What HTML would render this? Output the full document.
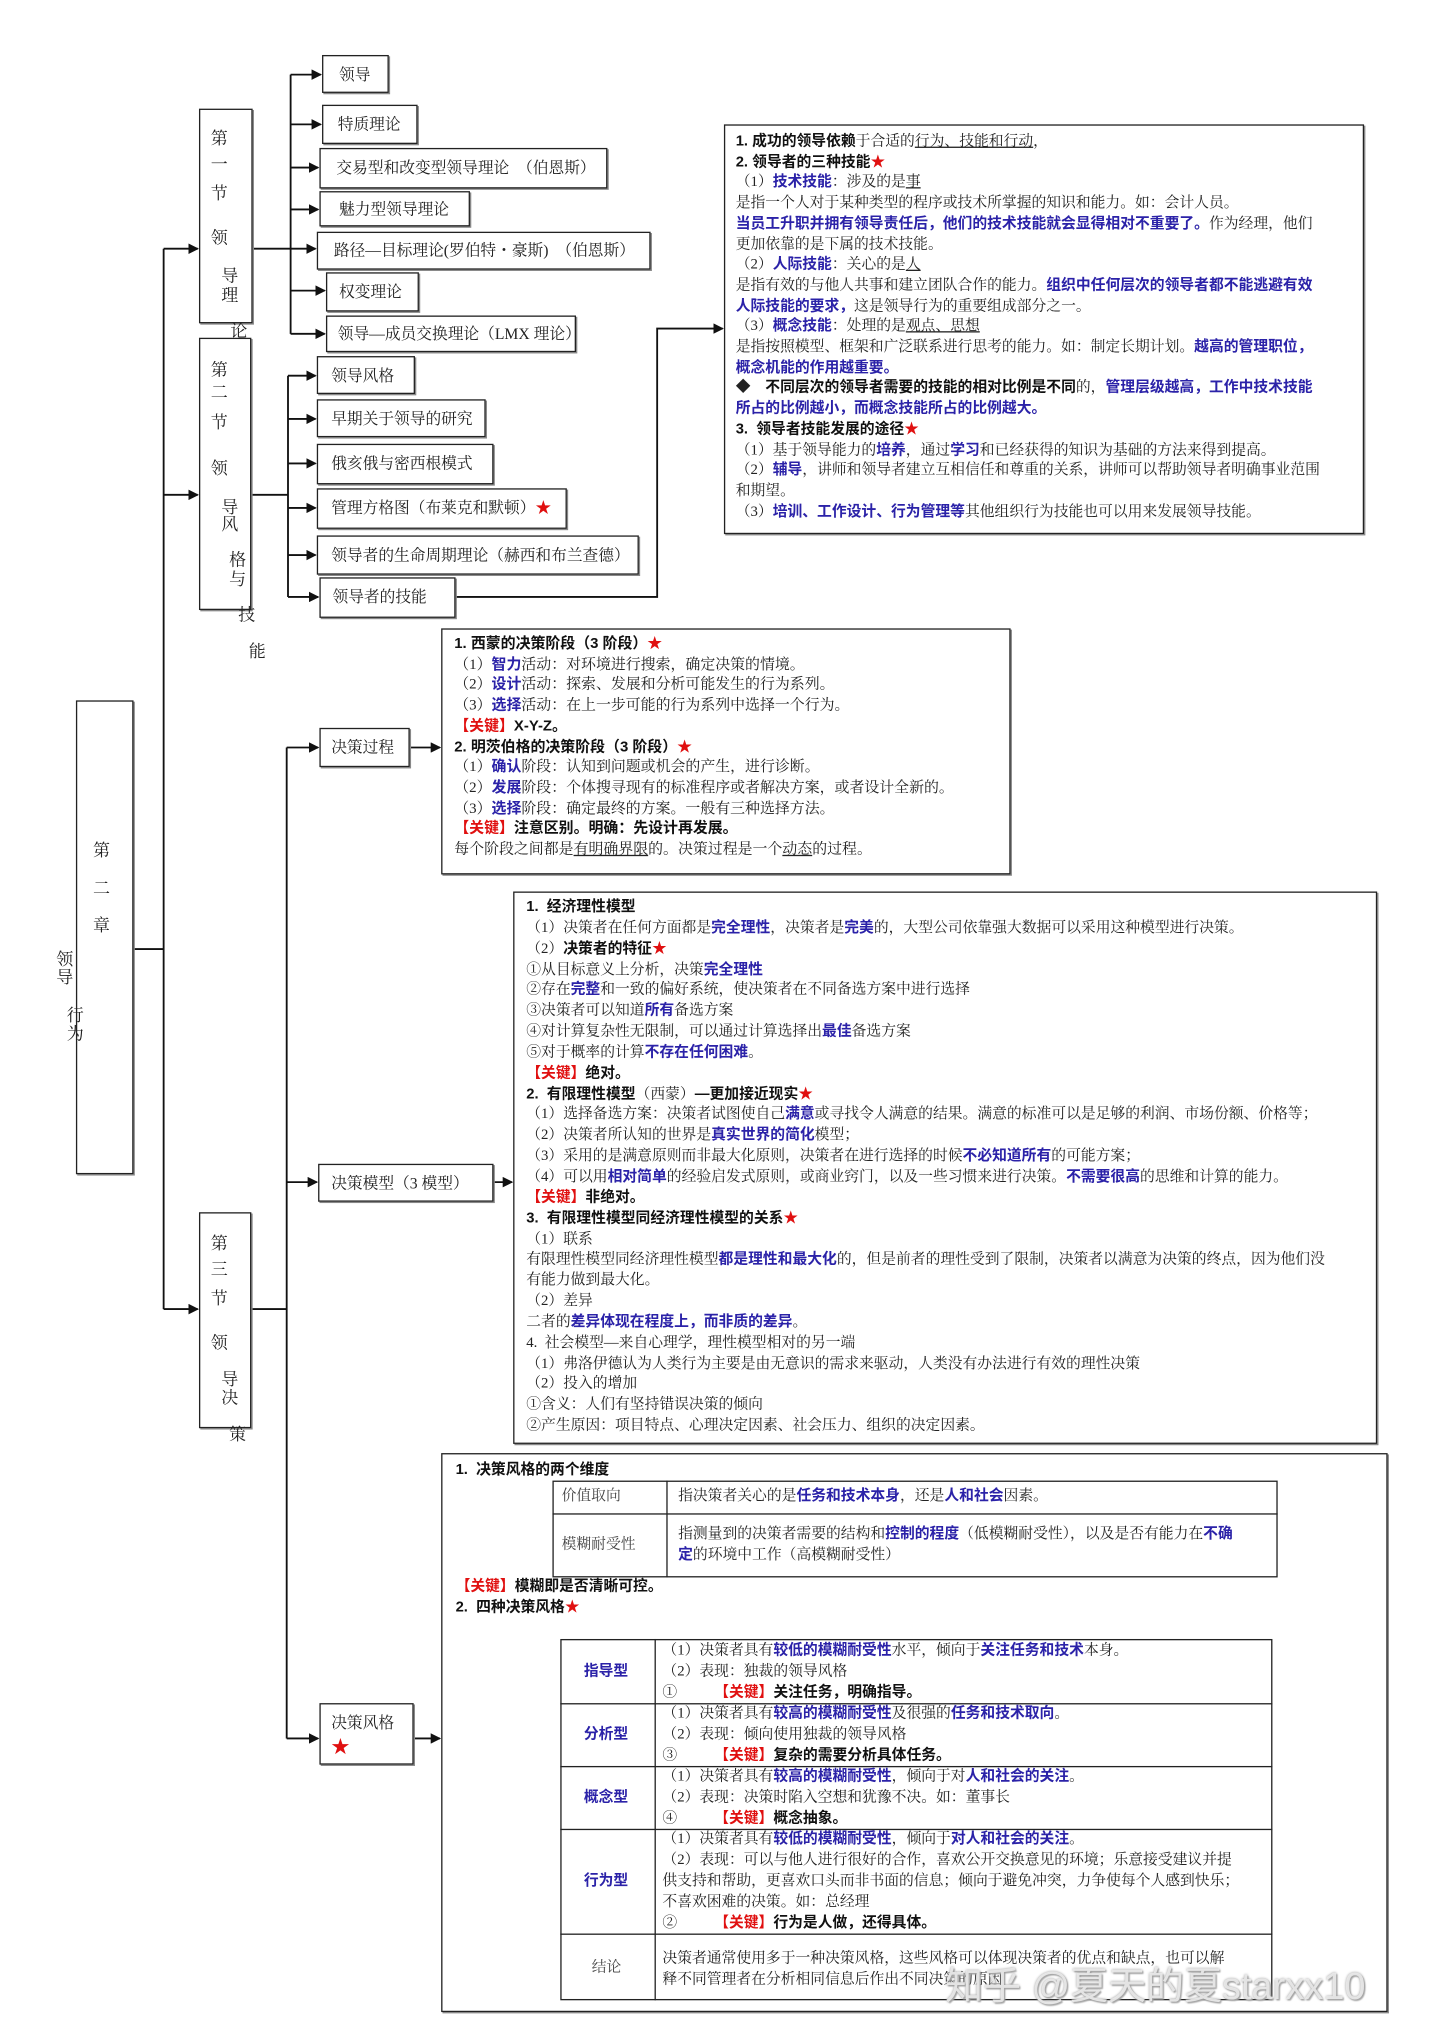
<!DOCTYPE html>
<html><head><meta charset="utf-8">
<style>
html,body{margin:0;padding:0;background:#fff;}
body{width:1440px;height:2035px;overflow:hidden;position:relative;}
#c{position:absolute;left:0;top:0;width:1100px;height:1555px;transform:scale(1.30909);transform-origin:0 0;font-family:"Liberation Serif","Noto Serif CJK SC",serif;color:#222;}
.bx{position:absolute;border:1.3px solid #222;box-sizing:border-box;background:#fff;box-shadow:1px 1px 0 #888;}
.lb{position:absolute;font-size:12px;white-space:nowrap;line-height:14px;}
.ch{position:absolute;font-size:13px;line-height:14px;}
.t{position:absolute;white-space:nowrap;font-size:11.3px;line-height:15.7px;}
.b{color:#2b22a8;font-weight:bold;font-family:"Liberation Sans","Noto Sans CJK SC",sans-serif;}
.k{font-weight:bold;font-family:"Liberation Sans","Noto Sans CJK SC",sans-serif;color:#111;}
.r{color:#e01010;font-weight:bold;font-family:"Liberation Sans","Noto Sans CJK SC",sans-serif;}
.s{color:#e01010;}
u{text-decoration:underline;}
svg{position:absolute;left:0;top:0;}
.cell{position:absolute;border:1.2px solid #222;box-sizing:border-box;}
</style></head><body><div id="c">
<svg width="1100" height="1555" viewBox="0 0 1100 1555">
<defs><marker id="a" markerWidth="8" markerHeight="8" refX="7" refY="4" orient="auto" markerUnits="userSpaceOnUse"><path d="M0,0 L8,4 L0,8 z" fill="#111"/></marker></defs>
<g stroke="#111" stroke-width="1.4" fill="none">
<path d="M102,725 H125 M125,190 V1000"/>
<path d="M125,190 H151" marker-end="url(#a)"/><path d="M125,378 H151" marker-end="url(#a)"/><path d="M125,1000 H151" marker-end="url(#a)"/>
<path d="M193,190 H241" marker-end="url(#a)"/>
<path d="M222,57 V255"/>
<path d="M222,57 H245" marker-end="url(#a)"/><path d="M222,95 H245" marker-end="url(#a)"/><path d="M222,128 H243" marker-end="url(#a)"/><path d="M222,160 H243" marker-end="url(#a)"/><path d="M222,222 H248" marker-end="url(#a)"/><path d="M222,255 H248" marker-end="url(#a)"/>
<path d="M192,378 H220 M220,287 V456"/>
<path d="M220,287 H241" marker-end="url(#a)"/><path d="M220,320 H241" marker-end="url(#a)"/><path d="M220,354 H241" marker-end="url(#a)"/><path d="M220,388 H241" marker-end="url(#a)"/><path d="M220,424 H241" marker-end="url(#a)"/><path d="M220,456 H243" marker-end="url(#a)"/>
<path d="M348,456 H502 V251 H552" marker-end="url(#a)"/>
<path d="M192,1000 H219 M219,571 V1328"/>
<path d="M219,571 H243" marker-end="url(#a)"/><path d="M219,903 H242" marker-end="url(#a)"/><path d="M219,1328 H243" marker-end="url(#a)"/>
<path d="M313,571 H336" marker-end="url(#a)"/><path d="M377,903 H391" marker-end="url(#a)"/><path d="M316,1328 H336" marker-end="url(#a)"/>
</g></svg>

<!-- chapter -->
<div class="bx" style="left:58px;top:535px;width:44px;height:362px;"></div>
<div class="ch" style="left:71px;top:643px">第</div><div class="ch" style="left:71px;top:672px">二</div><div class="ch" style="left:71px;top:700px">章</div>
<div class="ch" style="left:43px;top:726px">领</div><div class="ch" style="left:43px;top:740px">导</div><div class="ch" style="left:51px;top:769px">行</div><div class="ch" style="left:51px;top:783px">为</div>

<!-- section boxes -->
<div class="bx" style="left:152px;top:83px;width:41px;height:164px;"></div>
<div class="ch" style="left:161px;top:99px">第</div><div class="ch" style="left:161px;top:119px">一</div><div class="ch" style="left:161px;top:141px">节</div><div class="ch" style="left:161px;top:175px">领</div><div class="ch" style="left:169px;top:204px">导</div><div class="ch" style="left:169px;top:219px">理</div><div class="ch" style="left:176px;top:246px">论</div>
<div class="bx" style="left:152px;top:258px;width:40px;height:208px;"></div>
<div class="ch" style="left:161px;top:276px">第</div><div class="ch" style="left:161px;top:293px">二</div><div class="ch" style="left:161px;top:316px">节</div><div class="ch" style="left:161px;top:351px">领</div><div class="ch" style="left:169px;top:381px">导</div><div class="ch" style="left:169px;top:394px">风</div><div class="ch" style="left:175px;top:421px">格</div><div class="ch" style="left:175px;top:436px">与</div><div class="ch" style="left:182px;top:463px">技</div><div class="ch" style="left:190px;top:491px">能</div>
<div class="bx" style="left:152px;top:926px;width:40px;height:165px;"></div>
<div class="ch" style="left:161px;top:943px">第</div><div class="ch" style="left:161px;top:963px">三</div><div class="ch" style="left:161px;top:985px">节</div><div class="ch" style="left:161px;top:1019px">领</div><div class="ch" style="left:169px;top:1047px">导</div><div class="ch" style="left:169px;top:1061px">决</div><div class="ch" style="left:175px;top:1089px">策</div>

<!-- section1 leaves -->
<div class="bx" style="left:246px;top:42px;width:51px;height:29px;"></div><div class="lb" style="left:259px;top:50px">领导</div>
<div class="bx" style="left:246px;top:80px;width:73px;height:30px;"></div><div class="lb" style="left:258px;top:88px">特质理论</div>
<div class="bx" style="left:244px;top:113px;width:220px;height:31px;"></div><div class="lb" style="left:257px;top:121px">交易型和改变型领导理论　（伯恩斯）</div>
<div class="bx" style="left:244px;top:146px;width:115px;height:27px;"></div><div class="lb" style="left:259px;top:153px">魅力型领导理论</div>
<div class="bx" style="left:242px;top:177px;width:255px;height:29px;"></div><div class="lb" style="left:255px;top:184px">路径—目标理论(罗伯特・豪斯)　（伯恩斯）</div>
<div class="bx" style="left:249px;top:208px;width:71px;height:30px;"></div><div class="lb" style="left:259px;top:216px">权变理论</div>
<div class="bx" style="left:249px;top:241px;width:191px;height:28px;"></div><div class="lb" style="left:258px;top:248px">领导—成员交换理论（LMX 理论）</div>

<!-- section2 leaves -->
<div class="bx" style="left:242px;top:272px;width:75px;height:29px;"></div><div class="lb" style="left:253px;top:280px">领导风格</div>
<div class="bx" style="left:242px;top:305px;width:129px;height:29px;"></div><div class="lb" style="left:253px;top:313px">早期关于领导的研究</div>
<div class="bx" style="left:242px;top:339px;width:135px;height:31px;"></div><div class="lb" style="left:253px;top:347px">俄亥俄与密西根模式</div>
<div class="bx" style="left:242px;top:373px;width:191px;height:31px;"></div><div class="lb" style="left:253px;top:381px">管理方格图（布莱克和默顿）<span class="s">★</span></div>
<div class="bx" style="left:242px;top:409px;width:246px;height:30px;"></div><div class="lb" style="left:253px;top:417px">领导者的生命周期理论（赫西和布兰查德）</div>
<div class="bx" style="left:244px;top:441px;width:104px;height:31px;"></div><div class="lb" style="left:254px;top:449px">领导者的技能</div>

<!-- skills box -->
<div class="bx" style="left:553px;top:95px;width:489px;height:313px;"></div>
<div class="t" style="left:562px;top:101px;">
<span class="k">1. 成功的领导依赖</span>于合适的<u>行为、技能和行动</u>，<br>
<span class="k">2. 领导者的三种技能</span><span class="s">★</span><br>
（1）<span class="b">技术技能</span>：涉及的是<u>事</u><br>
是指一个人对于某种类型的程序或技术所掌握的知识和能力。如：会计人员。<br>
<span class="b">当员工升职并拥有领导责任后，他们的技术技能就会显得相对不重要了。</span>作为经理，他们<br>
更加依靠的是下属的技术技能。<br>
（2）<span class="b">人际技能</span>：关心的是<u>人</u><br>
是指有效的与他人共事和建立团队合作的能力。<span class="b">组织中任何层次的领导者都不能逃避有效</span><br>
<span class="b">人际技能的要求，</span>这是领导行为的重要组成部分之一。<br>
（3）<span class="b">概念技能</span>：处理的是<u>观点、思想</u><br>
是指按照模型、框架和广泛联系进行思考的能力。如：制定长期计划。<span class="b">越高的管理职位，</span><br>
<span class="b">概念机能的作用越重要。</span><br>
◆　<span class="k">不同层次的领导者需要的技能的相对比例是不同</span>的，<span class="b">管理层级越高，工作中技术技能</span><br>
<span class="b">所占的比例越小，而概念技能所占的比例越大。</span><br>
<span class="k">3.&nbsp; 领导者技能发展的途径</span><span class="s">★</span><br>
（1）基于领导能力的<span class="b">培养</span>，通过<span class="b">学习</span>和已经获得的知识为基础的方法来得到提高。<br>
（2）<span class="b">辅导</span>，讲师和领导者建立互相信任和尊重的关系，讲师可以帮助领导者明确事业范围<br>
和期望。<br>
（3）<span class="b">培训、工作设计、行为管理等</span>其他组织行为技能也可以用来发展领导技能。
</div>

<!-- section3 leaves -->
<div class="bx" style="left:244px;top:556px;width:69px;height:30px;"></div><div class="lb" style="left:253px;top:564px">决策过程</div>
<div class="bx" style="left:243px;top:889px;width:134px;height:29px;"></div><div class="lb" style="left:253px;top:897px">决策模型（3 模型）</div>
<div class="bx" style="left:244px;top:1301px;width:72px;height:47px;"></div><div class="lb" style="left:253px;top:1309px">决策风格</div><div class="lb s" style="left:253px;top:1329px;font-size:14px">★</div>

<!-- process box -->
<div class="bx" style="left:337px;top:480px;width:435px;height:188px;"></div>
<div class="t" style="left:347px;top:485px;font-size:11.4px;">
<span class="k">1. 西蒙的决策阶段（3 阶段）</span><span class="s">★</span><br>
（1）<span class="b">智力</span>活动：对环境进行搜索，确定决策的情境。<br>
（2）<span class="b">设计</span>活动：探索、发展和分析可能发生的行为系列。<br>
（3）<span class="b">选择</span>活动：在上一步可能的行为系列中选择一个行为。<br>
<span class="r">【关键】</span><span class="k">X-Y-Z。</span><br>
<span class="k">2. 明茨伯格的决策阶段（3 阶段）</span><span class="s">★</span><br>
（1）<span class="b">确认</span>阶段：认知到问题或机会的产生，进行诊断。<br>
（2）<span class="b">发展</span>阶段：个体搜寻现有的标准程序或者解决方案，或者设计全新的。<br>
（3）<span class="b">选择</span>阶段：确定最终的方案。一般有三种选择方法。<br>
<span class="r">【关键】</span><span class="k">注意区别。明确：先设计再发展。</span><br>
每个阶段之间都是<u>有明确界限</u>的。决策过程是一个<u>动态</u>的过程。
</div>

<!-- model box -->
<div class="bx" style="left:392px;top:681px;width:660px;height:422px;"></div>
<div class="t" style="left:402px;top:686px;line-height:15.85px;">
<span class="k">1.&nbsp; 经济理性模型</span><br>
（1）决策者在任何方面都是<span class="b">完全理性</span>，决策者是<span class="b">完美</span>的，大型公司依靠强大数据可以采用这种模型进行决策。<br>
（2）<span class="k">决策者的特征</span><span class="s">★</span><br>
①从目标意义上分析，决策<span class="b">完全理性</span><br>
②存在<span class="b">完整</span>和一致的偏好系统，使决策者在不同备选方案中进行选择<br>
③决策者可以知道<span class="b">所有</span>备选方案<br>
④对计算复杂性无限制，可以通过计算选择出<span class="b">最佳</span>备选方案<br>
⑤对于概率的计算<span class="b">不存在任何困难</span>。<br>
<span class="r">【关键】</span><span class="k">绝对。</span><br>
<span class="k">2.&nbsp; 有限理性模型</span>（西蒙）<span class="k">—更加接近现实</span><span class="s">★</span><br>
（1）选择备选方案：决策者试图使自己<span class="b">满意</span>或寻找令人满意的结果。满意的标准可以是足够的利润、市场份额、价格等；<br>
（2）决策者所认知的世界是<span class="b">真实世界的简化</span>模型；<br>
（3）采用的是满意原则而非最大化原则，决策者在进行选择的时候<span class="b">不必知道所有</span>的可能方案；<br>
（4）可以用<span class="b">相对简单</span>的经验启发式原则，或商业窍门，以及一些习惯来进行决策。<span class="b">不需要很高</span>的思维和计算的能力。<br>
<span class="r">【关键】</span><span class="k">非绝对。</span><br>
<span class="k">3.&nbsp; 有限理性模型同经济理性模型的关系</span><span class="s">★</span><br>
（1）联系<br>
有限理性模型同经济理性模型<span class="b">都是理性和最大化</span>的，但是前者的理性受到了限制，决策者以满意为决策的终点，因为他们没<br>
有能力做到最大化。<br>
（2）差异<br>
二者的<span class="b">差异体现在程度上，而非质的差异</span>。<br>
4.&nbsp; 社会模型—来自心理学，理性模型相对的另一端<br>
（1）弗洛伊德认为人类行为主要是由无意识的需求来驱动，人类没有办法进行有效的理性决策<br>
（2）投入的增加<br>
①含义：人们有坚持错误决策的倾向<br>
②产生原因：项目特点、心理决定因素、社会压力、组织的决定因素。
</div>

<!-- style box -->
<div class="bx" style="left:337px;top:1110px;width:723px;height:427px;"></div>
<div class="t" style="left:348px;top:1116px;"><span class="k">1.&nbsp; 决策风格的两个维度</span></div>
<div class="cell" style="left:422px;top:1131px;width:554px;height:74px;"></div>
<div class="cell" style="left:422px;top:1156px;width:554px;height:1px;border-width:1.2px 0 0 0"></div>
<div class="cell" style="left:509px;top:1131px;width:1px;height:74px;border-width:0 0 0 1.2px"></div>
<div class="t" style="left:429px;top:1136px;color:#444">价值取向</div>
<div class="t" style="left:518px;top:1136px;">指决策者关心的是<span class="b">任务和技术本身</span>，还是<span class="b">人和社会</span>因素。</div>
<div class="t" style="left:429px;top:1173px;color:#444">模糊耐受性</div>
<div class="t" style="left:518px;top:1165px;">指测量到的决策者需要的结构和<span class="b">控制的程度</span>（低模糊耐受性），以及是否有能力在<span class="b">不确</span><br><span class="b">定</span>的环境中工作（高模糊耐受性）</div>
<div class="t" style="left:348px;top:1205px;"><span class="r">【关键】</span><span class="k">模糊即是否清晰可控。</span><br><span class="k">2.&nbsp; 四种决策风格</span><span class="s">★</span></div>

<div class="cell" style="left:428px;top:1252px;width:544px;height:276px;"></div>
<div class="cell" style="left:500px;top:1252px;width:1px;height:276px;border-width:0 0 0 1.2px"></div>
<div class="cell" style="left:428px;top:1301px;width:544px;height:1px;border-width:1.2px 0 0 0"></div>
<div class="cell" style="left:428px;top:1349px;width:544px;height:1px;border-width:1.2px 0 0 0"></div>
<div class="cell" style="left:428px;top:1397px;width:544px;height:1px;border-width:1.2px 0 0 0"></div>
<div class="cell" style="left:428px;top:1477px;width:544px;height:1px;border-width:1.2px 0 0 0"></div>
<div class="t b" style="left:446px;top:1270px;">指导型</div>
<div class="t b" style="left:446px;top:1318px;">分析型</div>
<div class="t b" style="left:446px;top:1366px;">概念型</div>
<div class="t b" style="left:446px;top:1430px;">行为型</div>
<div class="t" style="left:452px;top:1496px;color:#444">结论</div>
<div class="t" style="left:506px;top:1254px;line-height:15.8px;">（1）决策者具有<span class="b">较低的模糊耐受性</span>水平，倾向于<span class="b">关注任务和技术</span>本身。<br>（2）表现：独裁的领导风格<br>①　　　<span class="r">【关键】</span><span class="k">关注任务，明确指导。</span></div>
<div class="t" style="left:506px;top:1302px;line-height:15.8px;">（1）决策者具有<span class="b">较高的模糊耐受性</span>及很强的<span class="b">任务和技术取向</span>。<br>（2）表现：倾向使用独裁的领导风格<br>③　　　<span class="r">【关键】</span><span class="k">复杂的需要分析具体任务。</span></div>
<div class="t" style="left:506px;top:1350px;line-height:15.8px;">（1）决策者具有<span class="b">较高的模糊耐受性</span>，倾向于对<span class="b">人和社会的关注</span>。<br>（2）表现：决策时陷入空想和犹豫不决。如：董事长<br>④　　　<span class="r">【关键】</span><span class="k">概念抽象。</span></div>
<div class="t" style="left:506px;top:1397px;line-height:16px;">（1）决策者具有<span class="b">较低的模糊耐受性</span>，倾向于<span class="b">对人和社会的关注</span>。<br>（2）表现：可以与他人进行很好的合作，喜欢公开交换意见的环境；乐意接受建议并提<br>供支持和帮助，更喜欢口头而非书面的信息；倾向于避免冲突，力争使每个人感到快乐；<br>不喜欢困难的决策。如：总经理<br>②　　　<span class="r">【关键】</span><span class="k">行为是人做，还得具体。</span></div>
<div class="t" style="left:506px;top:1488px;line-height:16px;">决策者通常使用多于一种决策风格，这些风格可以体现决策者的优点和缺点，也可以解<br>释不同管理者在分析相同信息后作出不同决策的原因</div>

<div style="position:absolute;left:722px;top:1500px;font-size:29px;line-height:36px;white-space:nowrap;color:rgba(235,235,235,0.9);text-shadow:0 0 2px #999,1px 1px 1px #aaa;font-family:'Liberation Sans','Noto Sans CJK SC',sans-serif;">知乎 @夏天的夏starxx10</div>
</div></body></html>
